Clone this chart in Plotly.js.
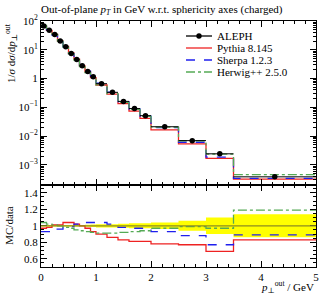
<!DOCTYPE html>
<html><head><meta charset="utf-8">
<script src="https://cdn.plot.ly/plotly-3.0.1.min.js"></script>
<style>html,body{margin:0;padding:0;background:#fff}#c{width:327px;height:295px}</style>
</head><body><div id="c"></div>
<script>
// bin edges (GeV)
var binEdges = [0,0.1,0.2,0.3,0.4,0.5,0.6,0.7,0.8,0.9,1.0,1.2,1.4,1.6,1.8,2.0,2.5,3.0,3.5,5.0];
// ALEPH data 1/sigma dsigma/dp
var alephVals = [67,48,34,20,12.6,7.4,4.6,2.75,1.74,1.16,0.66,0.33,0.16,0.09,0.051,0.021,0.0069,0.0024,0.00038];
var alephRelErr = [0.01,0.01,0.01,0.01,0.01,0.01,0.01,0.01,0.012,0.015,0.02,0.02,0.025,0.03,0.03,0.04,0.06,0.10,0.14];
// MC predictions
var pythiaVals = [65.0,47.0,34.3,20.2,13.1,7.70,4.69,2.75,1.69,1.08,0.594,0.284,0.133,0.0729,0.0413,0.0164,0.00531,0.00166,0.000315];
var sherpaVals = [62.3,44.6,32.6,19.2,12.5,7.33,4.69,2.86,1.81,1.21,0.686,0.337,0.157,0.0873,0.0495,0.0195,0.00607,0.00185,0.000338];
var herwigVals = [69.7,49.0,34.3,20.0,12.3,7.18,4.37,2.59,1.62,1.07,0.601,0.300,0.147,0.0837,0.0479,0.0204,0.00683,0.00233,0.000452];
// MC / data ratios
var pythiaRatio = [0.97,0.98,1.01,1.01,1.04,1.04,1.02,1.00,0.97,0.93,0.90,0.86,0.83,0.81,0.81,0.78,0.77,0.69,0.83];
var sherpaRatio = [0.93,0.93,0.96,0.96,0.99,0.99,1.02,1.04,1.04,1.04,1.04,1.02,0.98,0.97,0.97,0.93,0.88,0.77,0.89];
var herwigRatio = [1.04,1.02,1.01,1.00,0.98,0.97,0.95,0.94,0.93,0.92,0.91,0.91,0.92,0.93,0.94,0.97,0.99,0.97,1.19];
var logTickVals = [0.001,0.01,0.1,1,10,100];
var logTickText = ["10<sup>−3</sup>","10<sup>−2</sup>","10<sup>−1</sup>","1","10<sup>1</sup>","10<sup>2</sup>"];
var legendNames = ["ALEPH","Pythia 8.145","Sherpa 1.2.3","Herwig++ 2.5.0"];

var FONT = "Liberation Serif, DejaVu Serif, serif";
var FS = 11;
function step(v){ return v.concat([v[v.length-1]]); }
var centers = [], halfw = [];
for (var i=0;i<binEdges.length-1;i++){ centers.push((binEdges[i]+binEdges[i+1])/2); halfw.push((binEdges[i+1]-binEdges[i])/2); }
var absErr = alephVals.map(function(v,i){return v*alephRelErr[i];});
var bandHi = alephRelErr.map(function(e){return 1+e;});
var bandLo = alephRelErr.map(function(e){return 1-e;});

var RED="#ee2222", BLUE="#1f1fee", GREEN="#55aa55";
var COLORS=['#000',RED,BLUE,GREEN], DASHES=['solid','solid','dash','dashdot'];
function mc(vals,name,color,dash,xa,ya){
  return {x:binEdges,y:step(vals),mode:'lines',line:{shape:'hv',color:color,width:1.3,dash:dash},
          name:name,showlegend:false,xaxis:xa,yaxis:ya,hoverinfo:'skip'};
}
var traces = [
  {x:binEdges,y:step(bandLo),mode:'lines',line:{shape:'hv',width:0},xaxis:'x2',yaxis:'y2',showlegend:false,hoverinfo:'skip'},
  {x:binEdges,y:step(bandHi),mode:'lines',line:{shape:'hv',width:0},fill:'tonexty',fillcolor:'#ffff00',xaxis:'x2',yaxis:'y2',showlegend:false,hoverinfo:'skip'},
  mc(pythiaRatio,legendNames[1],RED,'solid','x2','y2'),
  mc(sherpaRatio,legendNames[2],BLUE,'dash','x2','y2'),
  mc(herwigRatio,legendNames[3],GREEN,'dashdot','x2','y2'),
  mc(pythiaVals,legendNames[1],RED,'solid','x','y'),
  mc(sherpaVals,legendNames[2],BLUE,'dash','x','y'),
  mc(herwigVals,legendNames[3],GREEN,'dashdot','x','y'),
  {x:centers,y:alephVals,mode:'markers',marker:{color:'#000',size:5.5},showlegend:false,name:legendNames[0],
   error_x:{type:'data',array:halfw,width:0,color:'#000',thickness:1},
   error_y:{type:'data',array:absErr,width:0,color:'#000',thickness:1},xaxis:'x',yaxis:'y',hoverinfo:'skip'}
];

var axBase = {showline:true,linecolor:'#000',linewidth:1,mirror:'allticks',ticks:'inside',tickcolor:'#000',
  showgrid:false,zeroline:false,tickfont:{family:FONT,size:FS,color:'#000'}};
function ext(o,e){var r={};for(var k in o)r[k]=o[k];for(var k2 in e)r[k2]=e[k2];return r;}

// manual legend (pixel-based placement converted to paper coords)
function px2x(p){return (p-41)/275;}
function px2y(p){return (267-p)/246;}
var legRows=[36,48,60,72];
var shapes=[{type:'line',xref:'x2',yref:'y2',x0:0,x1:5,y0:1,y1:1,line:{color:'#8c8c20',width:1.2}}];
var annotations=[
  {text:'1/<i>σ</i> d<i>σ</i>/d<i>p</i><sub>⊥</sub><sup>out</sup>',xref:'paper',yref:'paper',x:px2x(11),y:1,xanchor:'center',yanchor:'top',textangle:-90,showarrow:false,font:{family:FONT,size:FS,color:'#000'}},
  {text:'MC/data',xref:'paper',yref:'paper',x:px2x(9),y:0.1675,xanchor:'center',yanchor:'middle',textangle:-90,showarrow:false,font:{family:FONT,size:FS,color:'#000'}},
  {text:'<i>p</i><sub>⊥</sub><sup>out</sup> / GeV',xref:'paper',yref:'paper',x:1,y:px2y(287),xanchor:'right',yanchor:'middle',showarrow:false,font:{family:FONT,size:FS,color:'#000'}}
];
legendNames.forEach(function(n,k){
  var yy=px2y(legRows[k]);
  shapes.push({type:'line',xref:'paper',yref:'paper',x0:px2x(186),x1:px2x(212),y0:yy,y1:yy,line:{color:COLORS[k],width:1.3,dash:DASHES[k]}});
  annotations.push({text:n,xref:'paper',yref:'paper',x:px2x(215),y:yy,xanchor:'left',yanchor:'middle',showarrow:false,font:{family:FONT,size:FS,color:'#000'}});
});
shapes.push({type:'circle',xref:'paper',yref:'paper',xsizemode:'pixel',ysizemode:'pixel',xanchor:px2x(199),yanchor:px2y(legRows[0]),x0:-2.7,x1:2.7,y0:-2.7,y1:2.7,fillcolor:'#000',line:{color:'#000',width:0}});

var layout = {
  width:327,height:295,margin:{l:41,r:11,t:21,b:28},paper_bgcolor:'#fff',plot_bgcolor:'#fff',
  font:{family:FONT,size:FS,color:'#000'},showlegend:false,
  title:{text:'Out-of-plane <i>p<sub>T</sub></i> in GeV w.r.t. sphericity axes (charged)',
    x:41/327,xanchor:'left',y:1-9/295,yanchor:'middle',font:{family:FONT,size:FS,color:'#000'}},
  xaxis: ext(axBase,{range:[0,5],anchor:'y',matches:'x2',showticklabels:false,tickvals:[0,1,2,3,4,5],ticklen:6,
    minor:{dtick:0.2,ticks:'inside',ticklen:3,tickcolor:'#000',showgrid:false}}),
  yaxis: ext(axBase,{type:'log',range:[-3.69,2],domain:[0.335,1],anchor:'x',tickmode:'array',tickvals:logTickVals,ticktext:logTickText,ticklen:6,
    minor:{dtick:'D1',ticks:'inside',ticklen:3,tickcolor:'#000',showgrid:false}}),
  xaxis2: ext(axBase,{range:[0,5],anchor:'y2',tickvals:[0,1,2,3,4,5],ticklen:6,
    minor:{dtick:0.2,ticks:'inside',ticklen:3,tickcolor:'#000',showgrid:false}}),
  yaxis2: ext(axBase,{range:[0.5,1.5],domain:[0,0.335],anchor:'x2',tickvals:[0.6,0.8,1,1.2,1.4],ticktext:['0.6','0.8','1','1.2','1.4'],ticklen:6,
    minor:{dtick:0.05,ticks:'inside',ticklen:3,tickcolor:'#000',showgrid:false}}),
  shapes:shapes,
  annotations:annotations
};
Plotly.newPlot('c',traces,layout,{staticPlot:true,displayModeBar:false});
</script></body></html>
